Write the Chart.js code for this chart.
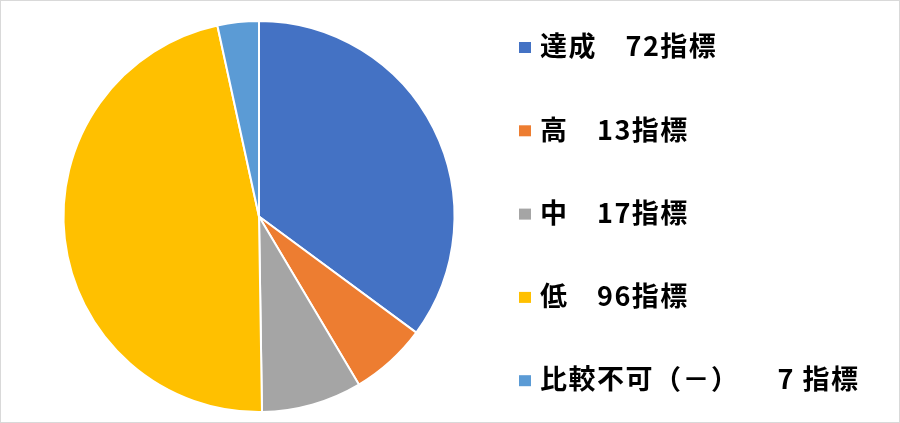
<!DOCTYPE html>
<html><head><meta charset="utf-8">
<script src="https://cdn.jsdelivr.net/npm/chart.js@4"></script>
<style>
html,body{margin:0;padding:0;background:#fff;}
#wrap{position:absolute;left:0;top:0;width:898px;height:421px;border:1px solid #d9d9d9;background:#fff;}
canvas{display:block;}
</style></head><body>
<div id="wrap"><canvas id="c" width="898" height="421"></canvas></div>
<script>
const categories = ['達成','高','中','低','比較不可（－）'];
const values = [72, 13, 17, 96, 7];
const legendLabels = ['達成　72指標','高　13指標','中　17指標','低　96指標','比較不可（－）　   7 指標'];
const colors = ['#4472C4','#ED7D31','#A5A5A5','#FFC000','#5B9BD5'];

const legendPlugin = {
  id: 'sideLegend',
  afterDraw(chart) {
    const ctx = chart.ctx;
    ctx.save();
    ctx.font = 'bold 27px "Noto Sans CJK JP", sans-serif';
    try { ctx.letterSpacing = '1.5px'; } catch (e) {}
    ctx.textBaseline = 'middle';
    const x0 = 518, y0 = 45, step = 83.3;
    legendLabels.forEach((t, i) => {
      const y = y0 + i * step;
      ctx.fillStyle = colors[i];
      ctx.fillRect(x0, y - 4, 12, 11);
      ctx.fillStyle = '#000';
      ctx.fillText(t, x0 + 21, y);
    });
    ctx.restore();
  }
};

new Chart(document.getElementById('c'), {
  type: 'pie',
  data: {
    labels: categories,
    datasets: [{ data: values, backgroundColor: colors, borderColor: '#fff', borderWidth: 2 }]
  },
  options: {
    responsive: false,
    animation: false,
    layout: { padding: { left: 61, right: 443, top: 19, bottom: 9 } },
    plugins: { legend: { display: false }, tooltip: { enabled: false } }
  },
  plugins: [legendPlugin]
});
</script>
</body></html>
